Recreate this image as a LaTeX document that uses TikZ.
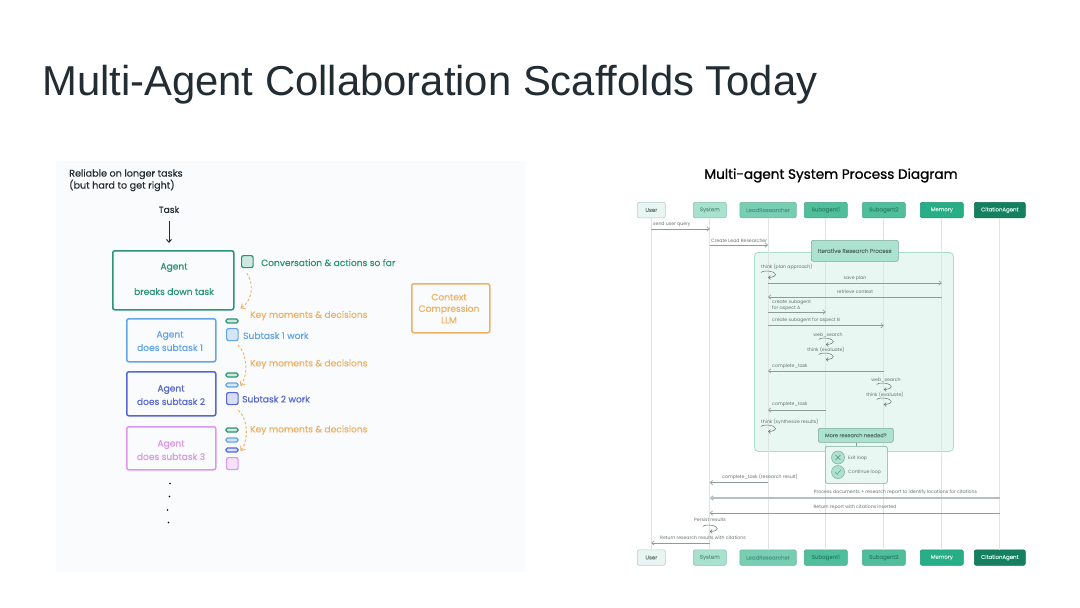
\documentclass[tikz,border=0pt]{standalone}
\usepackage{fontspec}
\setmainfont{Liberation Sans}
\newfontfamily\hand[FakeBold=0.3]{Poppins}
\newfontfamily\seq{Poppins}
\newfontfamily\seqm[FakeBold=0.2]{Poppins}
\newfontfamily\seqt[FakeBold=1.1]{Poppins}
\usetikzlibrary{arrows.meta,calc}
\definecolor{ink}{HTML}{222C33}
\definecolor{panel}{HTML}{F9FBFD}
\definecolor{cgreen}{HTML}{2A9474}
\definecolor{cblue}{HTML}{64A5E6}
\definecolor{cindigo}{HTML}{5668D2}
\definecolor{cpink}{HTML}{DE96E6}
\definecolor{corange}{HTML}{EEB163}
\definecolor{lgreen}{HTML}{CFE8DF}
\definecolor{lblue}{HTML}{D6E6FA}
\definecolor{lindigo}{HTML}{D8DEF8}
\definecolor{lpink}{HTML}{F7E0F9}
\definecolor{msgc}{HTML}{8E9C98}
\definecolor{msgt}{HTML}{66736F}
\definecolor{lifec}{HTML}{DFE3E2}
\definecolor{loopf}{HTML}{E8F7F2}
\definecolor{loopd}{HTML}{A9DCCB}
\definecolor{midf}{HTML}{ABE3D0}
\definecolor{midd}{HTML}{7FA89B}
\tikzset{
 x=1pt,y=-1pt,
 handt/.style={font=\hand\fontsize{9.1}{10}\selectfont,inner sep=0pt,align=center,yshift=-.6pt},
 agentbox/.style={draw=#1,line width=1.5pt,rounded corners=2pt,inner sep=0pt,anchor=north west},
 memsq/.style={draw=#1,line width=1.2pt,rounded corners=2pt,anchor=north west,minimum width=11.5pt,minimum height=12pt,inner sep=0pt},
 pill/.style={draw=#1,line width=1.1pt,rounded corners=1.5pt,minimum width=12pt,minimum height=4pt,inner sep=0pt},
 dasharrow/.style={draw=corange,line width=.9pt,dash pattern=on 2.5pt off 2pt,-{Straight Barb[length=3.5pt,width=6pt]}},
 head/.style={rounded corners=2pt,line width=.6pt,font=\seqm\fontsize{5.4}{6}\selectfont,inner sep=0pt,minimum height=15.5pt,anchor=north west},
 msg/.style={draw=msgc,line width=.6pt,-{Straight Barb[length=2.5pt,width=4.5pt]}},
 msgtext/.style={font=\seq\fontsize{4.65}{6}\selectfont,text=msgt,inner sep=0pt,align=left,yshift=-.7pt},
 lifeline/.style={draw=lifec,line width=.8pt},
 selfloop/.style={draw=msgt,line width=.5pt,-{Straight Barb[length=2pt,width=4pt]}},
 dot/.style={circle,fill=black,inner sep=0pt,minimum size=1.8pt},
}
\definecolor{hUd}{HTML}{B4CFC7}\definecolor{hUf}{HTML}{E9F5F2}\definecolor{hUt}{HTML}{6B8078}
\definecolor{hSd}{HTML}{86C4B0}\definecolor{hSf}{HTML}{A9E1CF}\definecolor{hSt}{HTML}{669E8C}
\definecolor{hLd}{HTML}{6FB79F}\definecolor{hLf}{HTML}{78CEB2}\definecolor{hLt}{HTML}{4F9C84}
\definecolor{hAd}{HTML}{46A688}\definecolor{hAf}{HTML}{50BD9B}\definecolor{hAt}{HTML}{2C8B6D}
\definecolor{hMd}{HTML}{1F9A75}\definecolor{hMf}{HTML}{27AE86}\definecolor{hMt}{HTML}{CDF2E5}
\definecolor{hCd}{HTML}{107052}\definecolor{hCf}{HTML}{14805F}\definecolor{hCt}{HTML}{CDF5E7}
\newcommand{\msgline}[3]{\draw[msg] (#1.south |- 0,#3) -- (#2.south |- 0,#3);}
\newcommand{\selfl}[2]{\draw[selfloop] ($(#1.south |- 0,#2)+(-7,.5)$) .. controls +(3,-3) and +(0,-3) .. ($(#1.south |- 0,#2)+(7.5,2.5)$) .. controls +(0,2) and +(3,0) .. ($(#1.south |- 0,#2)+(0,5.5)$);}
\newcommand{\headbox}[6]{\node[head,draw=h#5d,fill=h#5f,text=h#5t,minimum width=#4pt] (#1) at (#2,#3) {#6};}
\begin{document}
\begin{tikzpicture}
\useasboundingbox (0,0) rectangle (1080,608);
\fill[white] (0,0) rectangle (1080,608);
\node[anchor=west,inner sep=0pt,text=ink,font=\fontsize{41.8}{46}\selectfont] (title) at (42,85) {Multi-Agent Collaboration Scaffolds Today};

% left panel
\fill[panel] (56,161) rectangle (525,572);
\node[handt,anchor=north west,align=left,text=ink,font=\hand\fontsize{9.6}{12}\selectfont] (rel) at (69,168.5) {Reliable on longer tasks\\(but hard to get right)};
\node[handt,text=ink] (task) at (169,209) {Task};
\node[agentbox=cgreen,minimum width=121pt,minimum height=59pt] (a0) at (112,250) {};
\node[handt,text=cgreen] (a0a) at (174,267) {Agent};
\node[handt,text=cgreen] (a0b) at (174,291) {breaks down task};
\draw[line width=.9pt,-{Straight Barb[length=3pt,width=5pt]},ink] (task.south |- 0,221) -- (task.south |- 0,243);

\node[memsq=cgreen,fill=lgreen] (s0) at (241,255) {};
\node[handt,anchor=west,text=cgreen] (s0t) at (261,262) {Conversation \& actions so far};

\node[agentbox=cblue,minimum width=89pt,minimum height=43pt] (a1) at (126,318) {};
\node[handt,text=cblue] (a1a) at (170,335) {Agent};
\node[handt,text=cblue] (a1b) at (170,347) {does subtask 1};
\node[pill=cgreen,fill=lgreen] (p11) at (232,321) {};
\node[memsq=cblue,fill=lblue] (s1) at (226,328) {};
\node[handt,anchor=west,text=cblue] (s1t) at (243,335) {Subtask 1 work};

\node[agentbox=cindigo,minimum width=89pt,minimum height=44pt] (a2) at (126,371) {};
\node[handt,text=cindigo] (a2a) at (171,389) {Agent};
\node[handt,text=cindigo] (a2b) at (171,401) {does subtask 2};
\node[pill=cgreen,fill=lgreen] (p21) at (232,375) {};
\node[pill=cblue,fill=lblue] (p22) at (232,385) {};
\node[memsq=cindigo,fill=lindigo] (s2) at (226,392) {};
\node[handt,anchor=west,text=cindigo] (s2t) at (242,398.5) {Subtask 2 work};

\node[agentbox=cpink,minimum width=89pt,minimum height=43pt] (a3) at (126,426) {};
\node[handt,text=cpink] (a3a) at (171,444) {Agent};
\node[handt,text=cpink] (a3b) at (171,456) {does subtask 3};
\node[pill=cgreen,fill=lgreen] (p31) at (232,430) {};
\node[pill=cblue,fill=lblue] (p32) at (232,440) {};
\node[pill=cindigo,fill=lindigo] (p33) at (232,450) {};
\node[memsq=cpink,fill=lpink] (s3) at (226,457) {};

\node[handt,anchor=west,text=corange] (k1) at (250,315) {Key moments \& decisions};
\node[handt,anchor=west,text=corange] (k2) at (250,363.5) {Key moments \& decisions};
\node[handt,anchor=west,text=corange] (k3) at (250,429.5) {Key moments \& decisions};

\draw[dasharrow] ($(s0.south)+(-0.5,5)$) .. controls +(6,8) and +(14,-10) .. ($(p11.east)+(2,-12.5)$);
\draw[dasharrow] ($(s1.south)+(5.5,4)$) .. controls +(8,6) and +(9,-14) .. ($(p22.east)+(2,1)$);
\draw[dasharrow] ($(s2.south)+(6,5)$) .. controls +(9,8) and +(9,-12) .. ($(p33.east)+(2,1)$);

\node[agentbox=corange,minimum width=78pt,minimum height=49pt] (ctx) at (411,283) {};
\node[handt,text=corange,font=\hand\fontsize{9.1}{11.5}\selectfont] (ctxt) at (449,308) {Context\\Compression\\LLM};

\node[dot] (d1) at (170,483.5) {};
\node[dot] (d2) at (169.5,496.5) {};
\node[dot] (d3) at (167.5,510) {};
\node[dot] (d4) at (168.5,522.5) {};

% right diagram
\node[inner sep=0pt,font=\seqt\fontsize{13.6}{15}\selectfont,text=black] (rt) at (831,175.5) {Multi-agent System Process Diagram};

\headbox{user}{637}{202}{28}{U}{User}
\headbox{sys}{693}{202}{33}{S}{System}
\headbox{lead}{739.5}{202}{56.5}{L}{LeadResearcher}
\headbox{sub1}{804}{202}{43}{A}{Subagent1}
\headbox{sub2}{862}{202}{43}{A}{Subagent2}
\headbox{mem}{920}{202}{43}{M}{Memory}
\headbox{cit}{974}{202}{51}{C}{CitationAgent}

\headbox{userb}{637}{549.5}{28}{U}{User}
\headbox{sysb}{693}{549.5}{33}{S}{System}
\headbox{leadb}{739.5}{549.5}{56.5}{L}{LeadResearcher}
\headbox{sub1b}{804}{549.5}{43}{A}{Subagent1}
\headbox{sub2b}{862}{549.5}{43}{A}{Subagent2}
\headbox{memb}{920}{549.5}{43}{M}{Memory}
\headbox{citb}{974}{549.5}{51}{C}{CitationAgent}

\node[draw=loopd,fill=loopf,line width=.8pt,rounded corners=4pt,minimum width=199pt,minimum height=199pt,inner sep=0pt,anchor=north west] (loop) at (754,252) {};

\foreach \a/\b in {user/userb,sys/sysb,lead/leadb,sub1/sub1b,sub2/sub2b,mem/memb,cit/citb}
  \draw[lifeline] (\a) -- (\b);

\node[draw=midd,fill=midf,rounded corners=2pt,line width=.6pt,minimum width=87pt,minimum height=21pt,inner sep=0pt,font=\seqm\fontsize{5.6}{6}\selectfont,text=midd!70!black,anchor=north west] (iter) at (811,240) {Iterative Research Process};

\msgline{user}{sys}{229}
\node[msgtext,anchor=west] (t1) at (653,224) {send user query};
\msgline{sys}{lead}{245}
\node[msgtext,anchor=west] (t2) at (711,240) {Create Lead Researcher};
\selfl{lead}{272}
\node[msgtext,anchor=west] (t3) at (761,266) {think (plan approach)};
\msgline{lead}{mem}{283}
\node[msgtext] (t4) at (855,278) {save plan};
\msgline{mem}{lead}{297}
\node[msgtext] (t5) at (855,291) {retrieve context};
\msgline{lead}{sub1}{312}
\node[msgtext,anchor=north west,font=\seq\fontsize{4.65}{5.8}\selectfont] (t6) at (772,299.5) {create subagent\\for aspect A};
\msgline{lead}{sub2}{325.7}
\node[msgtext,anchor=west] (t7) at (772,320) {create subagent for aspect B};
\selfl{sub1}{339}
\node[msgtext] (t8) at (828,334) {web\_search};
\selfl{sub1}{354}
\node[msgtext] (t9) at (826,349) {think (evaluate)};
\msgline{sub2}{lead}{371}
\node[msgtext,anchor=west] (t10) at (772,365.5) {complete\_task};
\selfl{sub2}{384}
\node[msgtext] (t11) at (886,379) {web\_search};
\selfl{sub2}{399}
\node[msgtext] (t12) at (885,394) {think (evaluate)};
\msgline{sub1}{lead}{410}
\node[msgtext,anchor=west] (t13) at (772,404) {complete\_task};
\selfl{lead}{426}
\node[msgtext,anchor=west] (t14) at (761,421.5) {think (synthesize results)};

\node[draw=midd,fill=midf,rounded corners=2pt,line width=.6pt,minimum width=75pt,minimum height=14pt,inner sep=0pt,font=\seqm\fontsize{5.2}{6}\selectfont,text=midd!70!black,anchor=north west] (more) at (818,428) {More research needed?};
\node[draw=midd,fill=loopf,rounded corners=2pt,line width=.6pt,minimum width=62pt,minimum height=37pt,inner sep=0pt,anchor=north west] (opts) at (825,446) {};
\draw[draw=midd,line width=.6pt] (more) -- (more |- opts.north);
\node[circle,draw=midd,fill=midf,line width=.5pt,minimum size=13pt,inner sep=0pt] (ex) at (838,457.5) {};
\node[circle,draw=midd,fill=midf,line width=.5pt,minimum size=13pt,inner sep=0pt] (co) at (838,472) {};
\draw[midd!80!black,line width=.4pt] ($(ex)+(-2.5,-2.5)$) -- ($(ex)+(2.5,2.5)$) ($(ex)+(-2.5,2.5)$) -- ($(ex)+(2.5,-2.5)$);
\draw[midd!80!black,line width=.4pt] ($(co)+(-3,0)$) -- ($(co)+(-.8,2.4)$) -- ($(co)+(3.2,-2.6)$);
\node[msgtext,anchor=west] (el) at (848,457.5) {Exit loop};
\node[msgtext,anchor=west] (cl) at (848,472) {Continue loop};

\msgline{lead}{sys}{482.7}
\node[msgtext] (t15) at (760,476.5) {complete\_task (research result)};
\draw[msg,draw=msgc!65!white,line width=1.2pt] (cit.south |- 0,498) -- (sys.south |- 0,498);
\node[msgtext] (t16) at (895.5,491.5) {Process documents + research report to identify locations for citations};
\msgline{cit}{sys}{513}
\node[msgtext] (t17) at (855,507) {Return report with citations inserted};
\selfl{sys}{526}
\node[msgtext] (t18) at (710,519.5) {Persist results};
\msgline{sys}{user}{543}
\node[msgtext] (t19) at (703,537.5) {Return research results with citations};
\end{tikzpicture}
\end{document}
